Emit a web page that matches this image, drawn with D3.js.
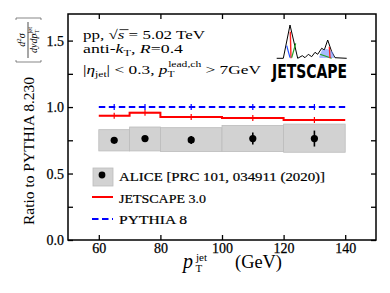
<!DOCTYPE html>
<html>
<head>
<meta charset="utf-8">
<script src="https://cdn.jsdelivr.net/npm/d3@7"></script>
<style>
body { margin: 0; background: #fff; }
text { font-family: "Liberation Serif", "DejaVu Serif", serif; fill: #000; }
</style>
</head>
<body>
<div id="chart"></div>
<script>
var w = 390;
var h = 293;
var margin = {left: 68, right: 14, top: 14, bottom: 53};

// bins in pT jet (GeV)
var binEdges = [60, 70, 80, 100, 120, 140];
var binCenters = [65, 75, 90, 110, 130];

// ALICE data ratio to PYTHIA
var aliceRatio = [0.750, 0.763, 0.753, 0.763, 0.763];
var aliceStat = [0.012, 0.018, 0.03, 0.045, 0.06];
var aliceSysLow = [0.670, 0.670, 0.665, 0.665, 0.660];
var aliceSysHigh = [0.830, 0.850, 0.845, 0.862, 0.872];

// JETSCAPE 3.0 ratio
var jetscapeRatio = [0.935, 0.958, 0.925, 0.918, 0.903];
var jetscapeErr = [0.008, 0.008, 0.006, 0.006, 0.007];

// PYTHIA 8 ratio (itself)
var pythiaRatio = [1, 1, 1, 1, 1];

var xTicks = [60, 80, 100, 120, 140];
var yTicks = [0, 0.25, 0.5, 0.75, 1.0, 1.25, 1.5];

var svg = d3.select("#chart").append("svg")
            .attr("width", w)
            .attr("height", h);

var x = d3.scaleLinear().domain([50, 150]).range([margin.left, w - margin.right]);
var y = d3.scaleLinear().domain([0, 1.7]).range([h - margin.bottom, margin.top]);

// systematic boxes
svg.selectAll("rect.sys")
   .data(binCenters)
   .enter()
   .append("rect")
   .attr("class", "sys")
   .attr("x", function(d, i) { return x(binEdges[i]); })
   .attr("width", function(d, i) { return x(binEdges[i + 1]) - x(binEdges[i]); })
   .attr("y", function(d, i) { return y(aliceSysHigh[i]); })
   .attr("height", function(d, i) { return y(aliceSysLow[i]) - y(aliceSysHigh[i]); })
   .style("fill", "#d2d2d2")
   .attr("stroke", "#bcbcbc")
   .attr("stroke-width", 0.8);

// step helper
var stepData = function(vals) {
  return binEdges.map(function(e, i) {
    return {x: e, y: vals[Math.min(i, vals.length - 1)]};
  });
};
var stepLine = d3.line()
                 .x(function(d) { return x(d.x); })
                 .y(function(d) { return y(d.y); })
                 .curve(d3.curveStepAfter);

// JETSCAPE band + line
var bandArea = d3.area()
                 .x(function(d) { return x(d.x); })
                 .y0(function(d) { return y(d.lo); })
                 .y1(function(d) { return y(d.hi); })
                 .curve(d3.curveStepAfter);
var bandData = binEdges.map(function(e, i) {
  var k = Math.min(i, jetscapeRatio.length - 1);
  return {x: e, lo: jetscapeRatio[k] - jetscapeErr[k], hi: jetscapeRatio[k] + jetscapeErr[k]};
});
svg.append("path")
   .attr("d", bandArea(bandData))
   .style("fill", "#ff0000")
   .style("opacity", 0.2);

svg.append("path")
   .attr("d", stepLine(stepData(jetscapeRatio)))
   .style("fill", "none")
   .attr("stroke", "#ff0000")
   .attr("stroke-width", 2);

svg.selectAll("line.jerr")
   .data(binCenters)
   .enter()
   .append("line")
   .attr("class", "jerr")
   .attr("x1", function(d) { return x(d); })
   .attr("x2", function(d) { return x(d); })
   .attr("y1", function(d, i) { return y(jetscapeRatio[i]) - 3; })
   .attr("y2", function(d, i) { return y(jetscapeRatio[i]) + 3; })
   .attr("stroke", "#ff0000")
   .attr("stroke-width", 1.2);

// PYTHIA dashed
svg.append("path")
   .attr("d", stepLine(stepData(pythiaRatio)))
   .style("fill", "none")
   .attr("stroke", "#0000ff")
   .attr("stroke-width", 2)
   .attr("stroke-dasharray", "6.5,3.5");

svg.selectAll("line.perr")
   .data(binCenters)
   .enter()
   .append("line")
   .attr("class", "perr")
   .attr("x1", function(d) { return x(d); })
   .attr("x2", function(d) { return x(d); })
   .attr("y1", function(d, i) { return y(pythiaRatio[i]) - 3; })
   .attr("y2", function(d, i) { return y(pythiaRatio[i]) + 3; })
   .attr("stroke", "#0000ff")
   .attr("stroke-width", 1.2);

// ALICE points
svg.selectAll("line.stat")
   .data(binCenters)
   .enter()
   .append("line")
   .attr("class", "stat")
   .attr("x1", function(d) { return x(d); })
   .attr("x2", function(d) { return x(d); })
   .attr("y1", function(d, i) { return y(aliceRatio[i] + aliceStat[i]); })
   .attr("y2", function(d, i) { return y(aliceRatio[i] - aliceStat[i]); })
   .attr("stroke", "black")
   .attr("stroke-width", 1.6);

svg.selectAll("circle.pt")
   .data(binCenters)
   .enter()
   .append("circle")
   .attr("class", "pt")
   .attr("cx", function(d) { return x(d); })
   .attr("cy", function(d, i) { return y(aliceRatio[i]); })
   .attr("r", 3.6)
   .style("fill", "black");

// axes (ticks pointing inward)
var fmt = function(d) { return (Math.abs(d * 2 - Math.round(d * 2)) < 1e-6) ? d.toFixed(1) : ""; };
var axB = svg.append("g").attr("transform", "translate(0," + y(0) + ")")
   .call(d3.axisBottom(x).tickValues(xTicks).tickSize(-5).tickPadding(3));
var axT = svg.append("g").attr("transform", "translate(0," + y(1.7) + ")")
   .call(d3.axisTop(x).tickValues(xTicks).tickSize(-5).tickFormat(""));
var axL = svg.append("g").attr("transform", "translate(" + x(50) + ",0)")
   .call(d3.axisLeft(y).tickValues(yTicks).tickSize(-5).tickPadding(4).tickFormat(fmt));
var axR = svg.append("g").attr("transform", "translate(" + x(150) + ",0)")
   .call(d3.axisRight(y).tickValues(yTicks).tickSize(-5).tickFormat(""));

[axB, axT, axL, axR].forEach(function(a) {
  a.select(".domain").remove();
  a.selectAll(".tick line").attr("stroke", "black").attr("stroke-width", 1.3);
  a.selectAll(".tick text")
   .filter(function() { return this.textContent === ""; })
   .remove();
  a.selectAll(".tick text")
   .style("font-family", "'Liberation Serif', serif")
   .style("font-size", "14px")
   .style("fill", "black")
   .attr("stroke", "black")
   .attr("stroke-width", 0.25);
});

svg.append("rect")
   .attr("x", x(50))
   .attr("y", y(1.7))
   .attr("width", x(150) - x(50))
   .attr("height", y(0) - y(1.7))
   .style("fill", "none")
   .attr("stroke", "black")
   .attr("stroke-width", 1.5);

// legend
var legend = svg.append("g");
legend.append("rect")
      .attr("x", 93).attr("y", 168).attr("width", 20).attr("height", 18)
      .style("fill", "#d2d2d2").attr("stroke", "#bcbcbc").attr("stroke-width", 0.8);
legend.append("circle")
      .attr("cx", 102).attr("cy", 175).attr("r", 3.4).style("fill", "black");
legend.append("line")
      .attr("x1", 92).attr("x2", 113).attr("y1", 197).attr("y2", 197)
      .attr("stroke", "#ff0000").attr("stroke-width", 2);
legend.append("line")
      .attr("x1", 92).attr("x2", 113).attr("y1", 219).attr("y2", 219)
      .attr("stroke", "#0000ff").attr("stroke-width", 2).attr("stroke-dasharray", "6.5,3.5");

var legendLabels = ["ALICE [PRC 101, 034911 (2020)]", "JETSCAPE 3.0", "PYTHIA 8"];
var legendWidths = [206, 87, 68];
var legendY = [181, 203, 224];
legend.selectAll("text")
      .data(legendLabels)
      .enter()
      .append("text")
      .attr("x", 119)
      .attr("y", function(d, i) { return legendY[i]; })
      .attr("textLength", function(d, i) { return legendWidths[i]; })
      .attr("lengthAdjust", "spacingAndGlyphs")
      .style("font-size", "12.5px")
      .attr("stroke", "black")
      .attr("stroke-width", 0.2)
      .text(function(d) { return d; });

// annotation text
var t1 = svg.append("text").attr("x", 83).attr("y", 39).style("font-size", "13px")
            .attr("textLength", 122).attr("lengthAdjust", "spacingAndGlyphs");
t1.append("tspan").text("pp,  \u221A");
t1.append("tspan").style("font-style", "italic").text("s");
t1.append("tspan").text(" = 5.02 TeV");
svg.append("line").attr("x1", 119.5).attr("x2", 128.5).attr("y1", 29.6).attr("y2", 29.6)
   .attr("stroke", "black").attr("stroke-width", 0.8);

var t2 = svg.append("text").attr("x", 83).attr("y", 52.5).style("font-size", "13px")
            .attr("textLength", 100).attr("lengthAdjust", "spacingAndGlyphs");
t2.append("tspan").text("anti-");
t2.append("tspan").style("font-style", "italic").text("k");
t2.append("tspan").attr("dy", 3).style("font-size", "9px").text("T");
t2.append("tspan").attr("dy", -3).text(", ");
t2.append("tspan").style("font-style", "italic").text("R");
t2.append("tspan").text("=0.4");

var t3 = svg.append("text").attr("x", 83).attr("y", 74).style("font-size", "13.5px")
            .attr("textLength", 178).attr("lengthAdjust", "spacingAndGlyphs");
t3.append("tspan").text("|");
t3.append("tspan").style("font-style", "italic").text("\u03B7");
t3.append("tspan").attr("dy", 3).style("font-size", "9px").text("jet");
t3.append("tspan").attr("dy", -3).text("| < 0.3,  ");
t3.append("tspan").style("font-style", "italic").text("p");
t3.append("tspan").attr("dy", 3).style("font-size", "9px").text("T");
t3.append("tspan").attr("dx", -5).attr("dy", -10).style("font-size", "9px").text("lead,ch");
t3.append("tspan").attr("dy", 7).text(" > 7GeV");

// x label
svg.append("text").attr("x", 183).attr("y", 268).style("font-size", "20px").style("font-style", "italic").text("p");
svg.append("text").attr("x", 195.5).attr("y", 272).style("font-size", "11px").text("T");
svg.append("text").attr("x", 196).attr("y", 261).style("font-size", "11px").text("jet");
svg.append("text").attr("x", 235).attr("y", 268).style("font-size", "18px")
   .attr("textLength", 47).attr("lengthAdjust", "spacingAndGlyphs").text("(GeV)");

// y label
svg.append("text")
   .attr("transform", "translate(34,225) rotate(-90)")
   .style("font-size", "15.5px")
   .attr("textLength", 148).attr("lengthAdjust", "spacingAndGlyphs")
   .text("Ratio to PYTHIA 8.230");

var frac = svg.append("g").attr("transform", "translate(28,40) rotate(-90)");
frac.append("path")
    .attr("d", "M-20,-12 L-22,-12 L-22,13 L-20,13 M20,-12 L22,-12 L22,13 L20,13")
    .style("fill", "none").attr("stroke", "#555").attr("stroke-width", 0.7);
frac.append("line").attr("x1", -18).attr("x2", 18).attr("y1", 0).attr("y2", 0)
    .attr("stroke", "black").attr("stroke-width", 0.7);
var num = frac.append("text").attr("x", 0).attr("y", -3).attr("text-anchor", "middle")
    .style("font-size", "10px").style("font-style", "italic");
num.append("tspan").text("d");
num.append("tspan").attr("dy", -4).style("font-size", "7px").style("font-style", "normal").text("2");
num.append("tspan").attr("dy", 4).text("\u03C3");
var den = frac.append("text").attr("x", 0).attr("y", 9).attr("text-anchor", "middle")
    .style("font-size", "10px").style("font-style", "italic");
den.append("tspan").text("dydp");
den.append("tspan").attr("dy", 2).style("font-size", "6.5px").style("font-style", "normal").text("T");
den.append("tspan").attr("dx", -4).attr("dy", -7).style("font-size", "6.5px").style("font-style", "normal").text("jet");

// JETSCAPE logo
var logo = svg.append("g");
logo.append("path")
    .attr("d", "M276.7,58.3 L283.3,58.3 L290,25 L297.7,58.3 L302.3,55.7 L305,57.7 L308.3,54.3 L311.7,56.7 L315,52.3 L317.7,54.3 L321.7,48.3 L324.3,50 L327.7,40 L331.7,51.7 L335,57.7 L346.7,58.3")
    .style("fill", "none").attr("stroke", "black").attr("stroke-width", 1);
logo.append("path").attr("d", "M319,57 L322,50 L327,49 L333,52 L334,58 L320,58 Z")
    .style("fill", "#6a8cff").style("opacity", 0.6);
logo.append("line").attr("x1", 290.3).attr("y1", 31.7).attr("x2", 291).attr("y2", 58.3)
    .attr("stroke", "#ff2020").attr("stroke-width", 1.4);
logo.append("line").attr("x1", 286.7).attr("y1", 45.7).attr("x2", 290).attr("y2", 57.7)
    .attr("stroke", "#2050ff").attr("stroke-width", 1.2);
logo.append("line").attr("x1", 291.7).attr("y1", 57.7).attr("x2", 295.7).attr("y2", 43.3)
    .attr("stroke", "#20a020").attr("stroke-width", 1.2);
logo.append("line").attr("x1", 320).attr("y1", 54.3).attr("x2", 331.7).attr("y2", 58.3)
    .attr("stroke", "#20a020").attr("stroke-width", 1.2);
logo.append("line").attr("x1", 329.3).attr("y1", 46.7).attr("x2", 330).attr("y2", 58.3)
    .attr("stroke", "#ff2020").attr("stroke-width", 1.4);
logo.append("text")
    .attr("x", 272).attr("y", 78)
    .attr("textLength", 75).attr("lengthAdjust", "spacingAndGlyphs")
    .style("font-family", "'DejaVu Sans', sans-serif")
    .style("font-weight", "bold")
    .style("font-size", "19px")
    .text("JETSCAPE");
</script>
</body>
</html>
